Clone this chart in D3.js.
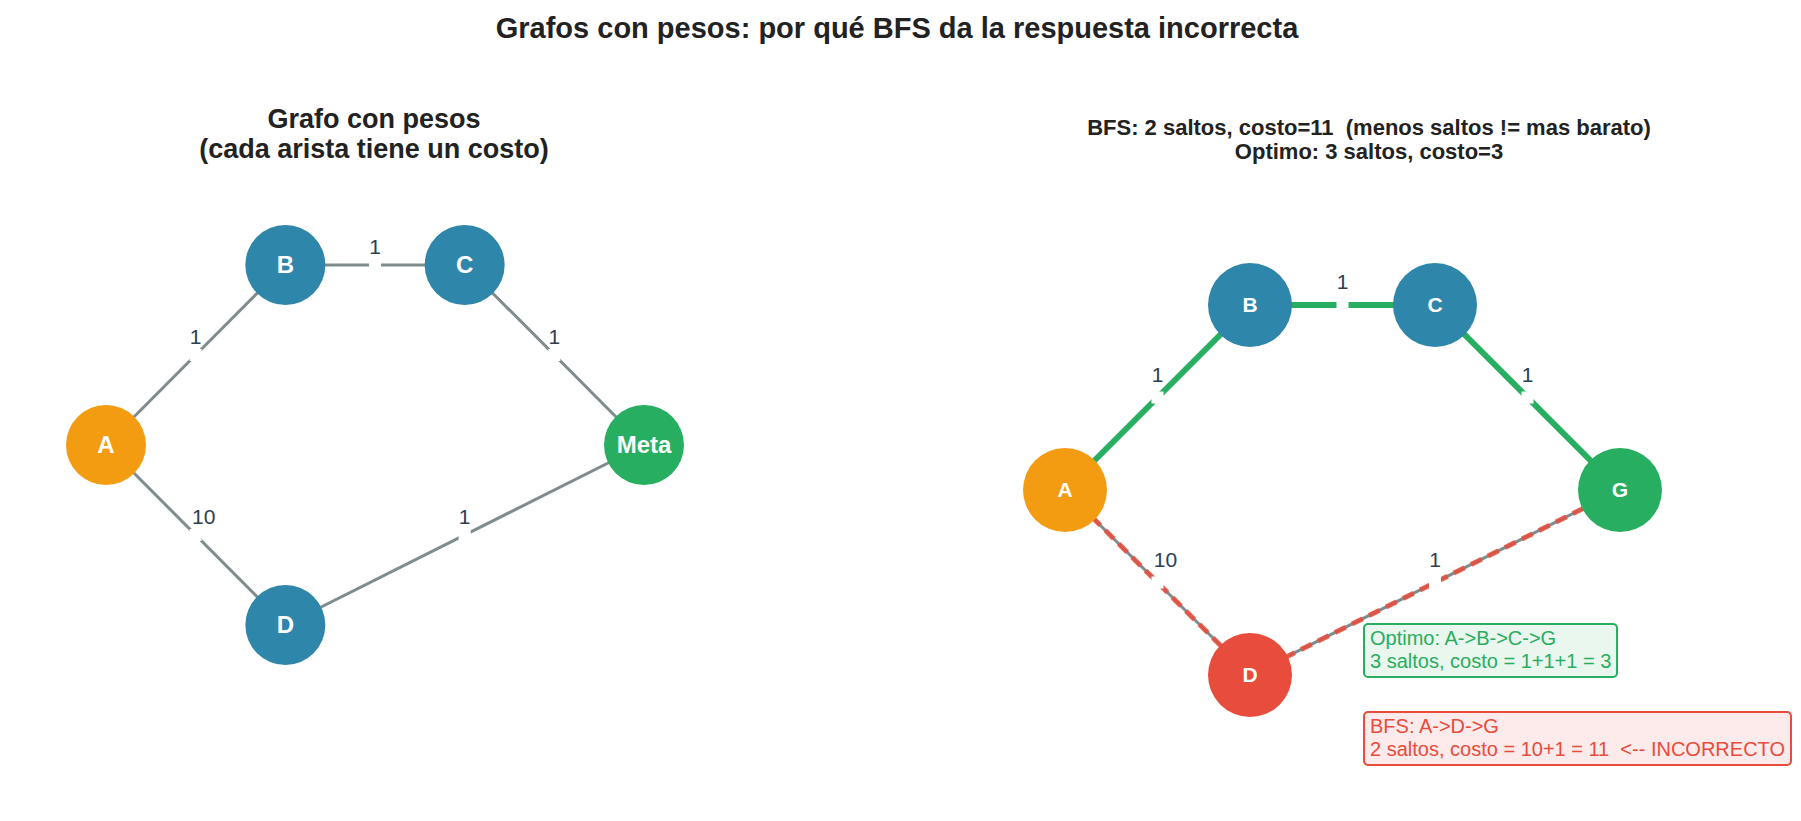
<!DOCTYPE html>
<html><head><meta charset="utf-8">
<script src="https://cdn.jsdelivr.net/npm/d3@7"></script>
<style>body{margin:0;background:#fff}text{font-family:"Liberation Sans",Arial,sans-serif}</style>
</head><body><svg id="c" width="1801" height="821"></svg>
<script>
const nodeIds = ["A","B","C","G","D"];
const nodeX = [0,1,2,3,1];
const nodeY = [1,2,2,1,0];
const leftLabels = ["A","B","C","Meta","D"];
const rightLabels = ["A","B","C","G","D"];
const edgeFrom = ["A","B","C","A","D"];
const edgeTo = ["B","C","G","D","G"];
const edgeWeight = [1,1,1,10,1];
const optimalPath = ["A","B","C","G"];
const bfsPath = ["A","D","G"];

const svg = d3.select("#c");
svg.append("text").attr("x",897).attr("y",38).attr("text-anchor","middle")
  .attr("font-size",29).attr("font-weight","bold").attr("fill","#222")
  .text("Grafos con pesos: por qué BFS da la respuesta incorrecta");

function panel(xr, yr, r, labels, right){
  const x = d3.scaleLinear().domain([0,3]).range(xr);
  const y = d3.scaleLinear().domain([0,2]).range(yr);
  const pos = {}; nodeIds.forEach((id,i)=>pos[id]=[x(nodeX[i]),y(nodeY[i])]);
  const g = svg.append("g");
  const onPath=(p,a,b)=>{for(let i=0;i<p.length-1;i++){if((p[i]==a&&p[i+1]==b)||(p[i]==b&&p[i+1]==a))return true;}return false;};
  edgeFrom.forEach((a,i)=>{
    const b=edgeTo[i], [x1,y1]=pos[a],[x2,y2]=pos[b];
    if(right && onPath(optimalPath,a,b)){
      g.append("line").attr("x1",x1).attr("y1",y1).attr("x2",x2).attr("y2",y2).attr("stroke","#27ae60").attr("stroke-width",6);
    } else {
      g.append("line").attr("x1",x1).attr("y1",y1).attr("x2",x2).attr("y2",y2).attr("stroke","#7f8c8d").attr("stroke-width",3);
      if(right && onPath(bfsPath,a,b))
        g.append("line").attr("x1",x1).attr("y1",y1).attr("x2",x2).attr("y2",y2).attr("stroke","#e74c3c").attr("stroke-opacity",0.85).attr("stroke-width",5).attr("stroke-dasharray","12,7");
    }
    const mx=(x1+x2)/2,my=(y1+y2)/2, off=right?-23:-18;
    g.append("rect").attr("x",mx-6).attr("y",my-6).attr("width",12).attr("height",12).attr("fill","#fff");
    g.append("text").attr("x",mx+(a=="A"&&b=="D"?8:0)).attr("y",my+off+7).attr("text-anchor","middle").attr("font-size",21).attr("fill","#2c3e50").text(edgeWeight[i]);
  });
  nodeIds.forEach((id,i)=>{
    let col = id=="A"?"#f39c12":id=="G"?"#27ae60":"#2e86ab";
    if(right && id=="D") col="#e74c3c";
    g.append("circle").attr("cx",pos[id][0]).attr("cy",pos[id][1]).attr("r",r).attr("fill",col);
    g.append("text").attr("x",pos[id][0]).attr("y",pos[id][1]+(right?7:8)).attr("text-anchor","middle")
      .attr("font-size",right?21:24).attr("font-weight","bold").attr("fill","#fff").text(labels[i]);
  });
}
panel([106,644],[625,265],40,leftLabels,false);
panel([1065,1620],[675,305],42,rightLabels,true);

svg.append("text").attr("x",374).attr("y",128).attr("text-anchor","middle").attr("font-size",27).attr("font-weight","bold").attr("fill","#222").text("Grafo con pesos");
svg.append("text").attr("x",374).attr("y",158).attr("text-anchor","middle").attr("font-size",27).attr("font-weight","bold").attr("fill","#222").text("(cada arista tiene un costo)");
svg.append("text").attr("x",1369).attr("y",135).attr("text-anchor","middle").attr("font-size",22).attr("font-weight","bold").attr("fill","#222").attr("xml:space","preserve").text("BFS: 2 saltos, costo=11  (menos saltos != mas barato)");
svg.append("text").attr("x",1369).attr("y",159).attr("text-anchor","middle").attr("font-size",22).attr("font-weight","bold").attr("fill","#222").text("Optimo: 3 saltos, costo=3");

function box(x,y,w,h,stroke,fill,lines){
  svg.append("rect").attr("x",x).attr("y",y).attr("width",w).attr("height",h).attr("rx",4).attr("fill",fill).attr("stroke",stroke).attr("stroke-width",2);
  lines.forEach((t,i)=>svg.append("text").attr("x",x+6).attr("y",y+21+i*23).attr("font-size",20).attr("fill",stroke).attr("xml:space","preserve").text(t));
}
box(1364,624,253,53,"#27ae60","#eaf7ef",["Optimo: A->B->C->G","3 saltos, costo = 1+1+1 = 3"]);
box(1364,712,427,53,"#e74c3c","#fdeaea",["BFS: A->D->G","2 saltos, costo = 10+1 = 11  <-- INCORRECTO"]);
</script></body></html>
